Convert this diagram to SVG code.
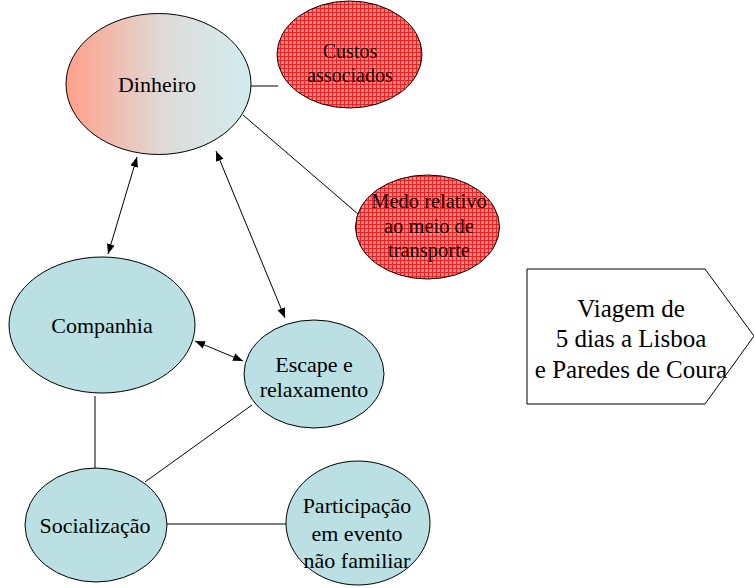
<svg xmlns="http://www.w3.org/2000/svg" width="754" height="588" viewBox="0 0 754 588">
<style>
text{font-family:"Liberation Serif","Times New Roman",serif;fill:#000;text-anchor:middle}
.n{stroke:#000;stroke-width:1}
.b{fill:#BAE0E3}
.c line{stroke:#000;stroke-width:1}
</style>
<defs>
<linearGradient id="g" x1="0" y1="0" x2="1" y2="0">
<stop offset="0" stop-color="#FFA08A"/>
<stop offset="0.55" stop-color="#DEDCDA"/>
<stop offset="1" stop-color="#D2ECEE"/>
</linearGradient>
<pattern id="p" width="4" height="4" patternUnits="userSpaceOnUse">
<rect width="4" height="4" fill="#F48888"/>
<path d="M0 0.5H4M0.5 0V4" stroke="#EE2020" stroke-width="1"/>
</pattern>
<marker id="a" viewBox="0 0 10 10" refX="10" refY="5" markerWidth="10" markerHeight="10" markerUnits="userSpaceOnUse" orient="auto-start-reverse">
<path d="M0 1L10 5L0 9z" fill="#000"/>
</marker>
</defs>
<g class="c" id="connectors">
<line x1="251" y1="86" x2="278" y2="86"/>
<line x1="243" y1="115" x2="358" y2="214"/>
<line x1="137" y1="157" x2="108" y2="254" marker-start="url(#a)" marker-end="url(#a)"/>
<line x1="216" y1="151" x2="285" y2="318" marker-start="url(#a)" marker-end="url(#a)"/>
<line x1="195" y1="341" x2="243" y2="361" marker-start="url(#a)" marker-end="url(#a)"/>
<line x1="95" y1="396" x2="95" y2="468"/>
<line x1="252" y1="405" x2="145" y2="482"/>
<line x1="167" y1="524" x2="286" y2="524"/>
</g>
<g id="dinheiro">
<ellipse class="n" cx="158.5" cy="84" rx="92.5" ry="70.5" fill="url(#g)"/>
<text x="157" y="92" font-size="22">Dinheiro</text>
</g>
<g id="custos">
<ellipse class="n" cx="349.5" cy="54.5" rx="72.5" ry="53.5" fill="url(#p)"/>
<text x="350" y="58" font-size="20">Custos</text>
<text x="350" y="82" font-size="20">associados</text>
</g>
<g id="medo">
<ellipse class="n" cx="427.5" cy="227" rx="72" ry="52" fill="url(#p)"/>
<text x="429" y="208" font-size="20.5">Medo relativo</text>
<text x="429" y="233" font-size="20.5">ao meio de</text>
<text x="429" y="257" font-size="20.5">transporte</text>
</g>
<g id="viagem">
<polygon class="n" points="527,269 705,269 754,336 705,404 527,404" fill="#fff"/>
<text x="631" y="317" font-size="25">Viagem de</text>
<text x="631" y="347" font-size="25">5 dias a Lisboa</text>
<text x="631" y="378" font-size="25">e Paredes de Coura</text>
</g>
<g id="companhia">
<ellipse class="n b" cx="102" cy="325" rx="93" ry="68"/>
<text x="102" y="333" font-size="22">Companhia</text>
</g>
<g id="escape">
<ellipse class="n b" cx="314" cy="374" rx="70" ry="54"/>
<text x="314" y="372" font-size="22">Escape e</text>
<text x="314" y="397" font-size="22">relaxamento</text>
</g>
<g id="socializacao">
<ellipse class="n b" cx="96" cy="525" rx="71" ry="57"/>
<text x="95" y="533" font-size="22">Socialização</text>
</g>
<g id="participacao">
<ellipse class="n b" cx="358" cy="523" rx="72" ry="62"/>
<text x="357" y="513" font-size="22">Participação</text>
<text x="357" y="541" font-size="22">em evento</text>
<text x="357" y="568" font-size="22">não familiar</text>
</g>
</svg>
